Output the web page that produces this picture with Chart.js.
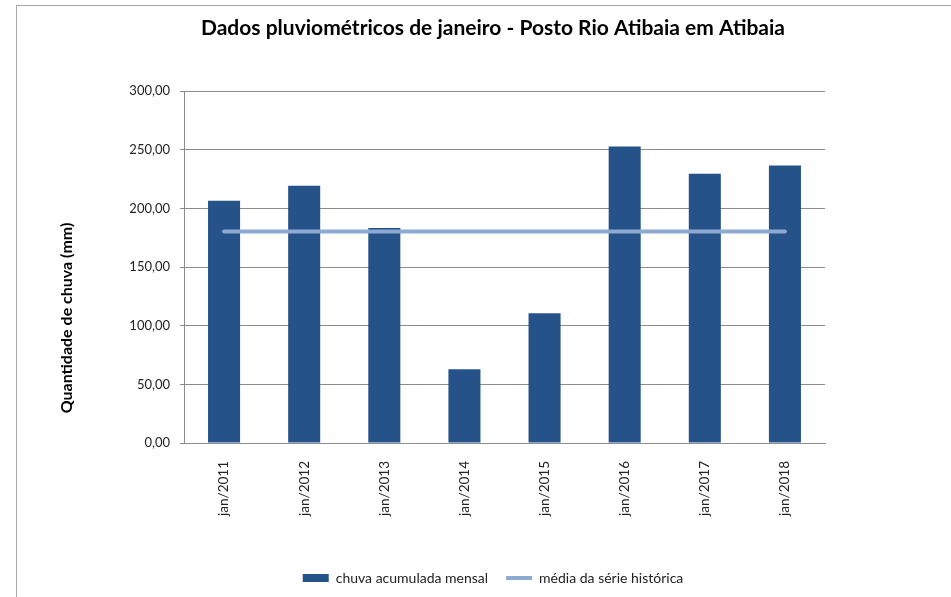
<!DOCTYPE html>
<html>
<head>
<meta charset="utf-8">
<script src="https://cdn.jsdelivr.net/npm/chart.js@4"></script>
<style>
  html, body { margin: 0; padding: 0; background: #fff; }
  #wrap { position: relative; width: 951px; height: 597px; overflow: hidden; }
  #frame { position: absolute; left: 16px; top: 5px; width: 1000px; height: 700px; border: 1px solid #a6a6a6; }
  canvas { position: absolute; left: 0; top: 0; }
</style>
</head>
<body>
<div id="wrap">
  <div id="frame"></div>
  <canvas id="c" width="951" height="597"></canvas>
</div>
<script>
  // dados
  var categories = ['jan/2011', 'jan/2012', 'jan/2013', 'jan/2014', 'jan/2015', 'jan/2016', 'jan/2017', 'jan/2018'];
  var chuvaMensal = [206.6, 219.4, 183.4, 62.9, 110.6, 252.9, 229.7, 236.6];
  var mediaHistorica = [180.3, 180.3, 180.3, 180.3, 180.3, 180.3, 180.3, 180.3];
  var yTicks = [0, 50, 100, 150, 200, 250, 300];

  var chartTitle = 'Dados pluviométricos de janeiro - Posto Rio Atibaia em Atibaia';
  var yTitle = 'Quantidade de chuva (mm)';
  var seriesNames = ['chuva acumulada mensal', 'média da série histórica'];

  var FONT = 'Lato';
  var barColor = '#26528a';
  var lineColor = '#8eaad3';

  function fmt(v) {
    return v.toFixed(2).replace('.', ',');
  }

  // titulo do eixo y desenhado a mao (Excel centraliza no grafico todo)
  var yTitlePlugin = {
    id: 'yTitle',
    afterDraw: function(chart) {
      var ctx = chart.ctx;
      ctx.save();
      ctx.translate(67, chart.chartArea.bottom - 125);
      ctx.rotate(-Math.PI / 2);
      ctx.font = 'bold 16px ' + FONT;
      ctx.fillStyle = '#000';
      ctx.textAlign = 'center';
      ctx.textBaseline = 'middle';
      ctx.fillText(yTitle, 0, 0);
      ctx.restore();
    }
  };

  new Chart(document.getElementById('c'), {
    type: 'bar',
    data: {
      labels: categories,
      datasets: [
        {
          type: 'bar',
          label: seriesNames[0],
          data: chuvaMensal,
          backgroundColor: barColor,
          borderWidth: 0,
          barPercentage: 0.5,
          categoryPercentage: 0.8,
          pointStyle: 'rect',
          order: 1
        },
        {
          type: 'line',
          label: seriesNames[1],
          data: mediaHistorica,
          borderColor: lineColor,
          backgroundColor: lineColor,
          borderWidth: 4,
          borderCapStyle: 'round',
          pointRadius: 0,
          pointStyle: 'line',
          fill: false,
          order: 0
        }
      ]
    },
    options: {
      responsive: false,
      devicePixelRatio: 1,
      animation: false,
      layout: { padding: { left: 35, right: 0, top: 0, bottom: 2 } },
      plugins: {
        title: {
          display: true,
          text: chartTitle,
          color: '#000',
          font: { family: FONT, size: 21, weight: 'bold' },
          padding: { top: 16, bottom: 50 }
        },
        legend: {
          position: 'bottom',
          labels: {
            usePointStyle: true,
            pointStyleWidth: 26,
            boxHeight: 8,
            padding: 18,
            color: '#222',
            font: { family: FONT, size: 14 },
            sort: function(a, b) { return a.datasetIndex - b.datasetIndex; }
          }
        },
        tooltip: { enabled: false }
      },
      scales: {
        x: {
          grid: { display: false },
          border: { display: true, color: '#8c8c8c' },
          ticks: {
            minRotation: 90,
            maxRotation: 90,
            padding: 10,
            color: '#222',
            font: { family: FONT, size: 13.5 }
          },
          afterFit: function(s) { s.height = 110; }
        },
        y: {
          min: 0,
          max: 300,
          afterBuildTicks: function(s) {
            s.ticks = yTicks.map(function(v) { return { value: v }; });
          },
          ticks: {
            padding: 10,
            color: '#222',
            font: { family: FONT, size: 13 },
            callback: function(v) { return fmt(v); }
          },
          grid: { color: '#8c8c8c', tickLength: 4 },
          border: { display: true, color: '#8c8c8c' },
          afterFit: function(s) { s.width = 149; }
        },
        espaco: {
          type: 'linear',
          position: 'right',
          grid: { display: false },
          ticks: { display: false },
          border: { display: false },
          afterFit: function(s) { s.width = 126; }
        }
      }
    },
    plugins: [yTitlePlugin]
  });
</script>
</body>
</html>
